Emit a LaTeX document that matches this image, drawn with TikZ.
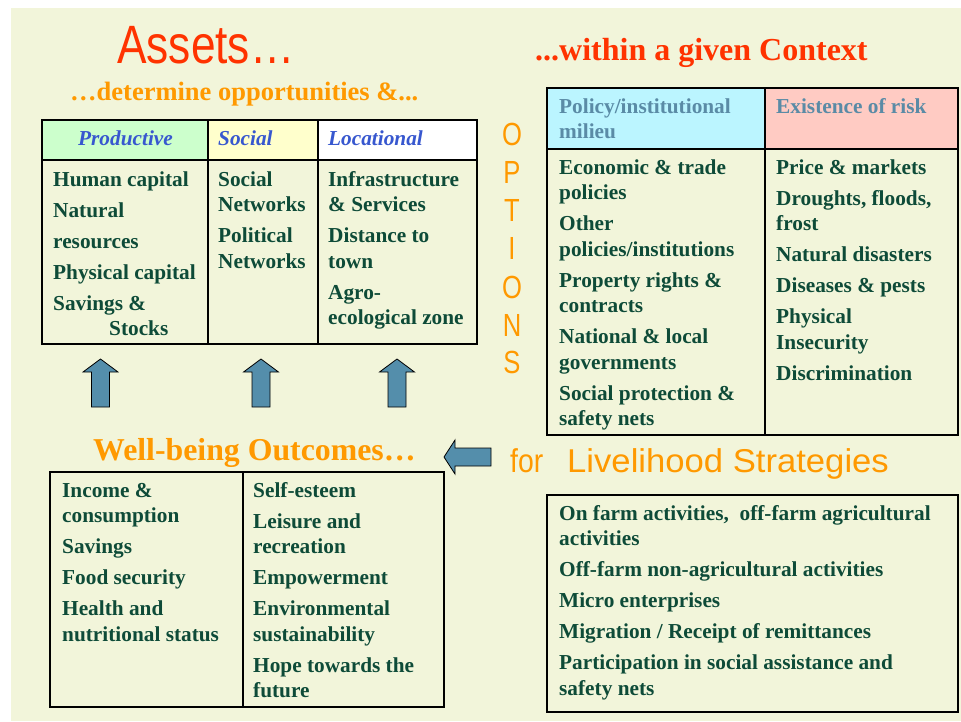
\documentclass[tikz,border=0pt]{standalone}
\usepackage{fontspec}
\usepackage{graphicx}
\setmainfont{Liberation Serif}
\newfontfamily\titlesans{Liberation Sans}

\definecolor{pagebg}{HTML}{F2F5DA}
\definecolor{bodygreen}{HTML}{0E4B38}
\definecolor{titlered}{HTML}{FF3300}
\definecolor{titleorange}{HTML}{FF9900}
\definecolor{headblue}{HTML}{3757CF}
\definecolor{ctxblue}{HTML}{5A8BA6}
\definecolor{prodfill}{HTML}{CCFFCC}
\definecolor{socfill}{HTML}{FFFFCC}
\definecolor{policyfill}{HTML}{BBF5FF}
\definecolor{riskfill}{HTML}{FFCBC3}
\definecolor{arrowblue}{HTML}{548EAB}

\newcommand\bodyfont{\fontsize{21.3}{25.5}\selectfont\bfseries}
\newcommand\itemgap{\\[5.5pt]}

\tikzset{
  cell/.style={anchor=north west, inner sep=0pt, align=left, text=bodygreen,
    font=\bodyfont, yshift=17.85pt},
  assethead/.style={anchor=base west, inner sep=0pt, text=headblue,
    font=\fontsize{21.3}{25.5}\selectfont\bfseries\itshape},
  ctxhead/.style={cell, text=ctxblue},
  outer/.style={draw=black, line width=2.6pt},
  inner/.style={draw=black, line width=1.3pt},
  blockarrow/.style={fill=arrowblue, draw=black, line width=0.8pt, line join=miter},
  optletter/.style={inner sep=0pt, text=titleorange,
    font=\titlesans\fontsize{32}{32}\selectfont},
}

% up-pointing block arrow centred on x = #1
\newcommand\uparrowat[1]{%
  \draw[blockarrow] (#1,359) -- (#1+17.5,372) -- (#1+9,372) -- (#1+9,407)
    -- (#1-9,407) -- (#1-9,372) -- (#1-17.5,372) -- cycle;}

\begin{document}
\begin{tikzpicture}[x=1pt, y=-1pt]
  \useasboundingbox (0,0) rectangle (961,721);
  \fill[white] (0,0) rectangle (961,721);
  \fill[pagebg] (11,8) rectangle (961,721);

  % ---------- titles ----------
  \node[anchor=base west, inner sep=0pt, text=titlered,
        font=\titlesans\fontsize{54}{54}\selectfont] (assets) at (117,63)
        {\scalebox{0.82}[1]{Assets…}};
  \node[anchor=base west, inner sep=0pt, text=titleorange,
        font=\fontsize{26.5}{30}\selectfont\bfseries] (determine) at (70,100)
        {…determine opportunities \&...};
  \node[anchor=base west, inner sep=0pt, text=titlered,
        font=\fontsize{32}{36}\selectfont\bfseries] (context) at (535,60)
        {...within a given Context};
  \node[anchor=base west, inner sep=0pt, text=titleorange,
        font=\fontsize{31.8}{36}\selectfont\bfseries] (wellbeing) at (93,460)
        {Well-being Outcomes…};
  \node[anchor=base west, inner sep=0pt, text=titleorange,
        font=\titlesans\fontsize{33}{36}\selectfont] (for) at (510,472)
        {\scalebox{0.86}[1]{for}};
  \node[anchor=base west, inner sep=0pt, text=titleorange,
        font=\titlesans\fontsize{33}{36}\selectfont] (livelihood) at (567,472)
        {\scalebox{1.05}[1]{Livelihood Strategies}};

  % vertical OPTIONS
  \foreach \ch/\yy [count=\i] in {O/134,P/172,T/210,I/248,O/287,N/325,S/362}
    \node[optletter] (opt\i) at (512,\yy) {\scalebox{0.8}[1]{\ch}};

  % ---------- assets table ----------
  \fill[prodfill] (42,120) rectangle (208,160);
  \fill[socfill]  (208,120) rectangle (318,160);
  \fill[white]    (318,120) rectangle (477,160);
  \draw[inner] (42,160) -- (477,160);
  \draw[inner] (208,120) -- (208,344);
  \draw[inner] (318,120) -- (318,344);
  \draw[outer] (42,120) rectangle (477,344);

  \node[assethead, anchor=base] (productive) at (125.5,145) {Productive};
  \node[assethead] (social) at (218,145) {Social};
  \node[assethead] (locational) at (328,145) {Locational};

  \node[cell] (prodlist) at (53,186)
    {\strut Human capital\itemgap Natural\itemgap resources\itemgap
     Physical capital\itemgap Savings \&\\\hspace*{56pt}Stocks};
  \node[cell] (soclist) at (218,186)
    {\strut Social\\Networks\itemgap Political\\Networks};
  \node[cell] (loclist) at (328,186)
    {\strut Infrastructure\\\& Services\itemgap Distance to\\town\itemgap
     Agro-\\ecological zone};

  % ---------- context table ----------
  \fill[policyfill] (547,88) rectangle (765,149);
  \fill[riskfill]   (765,88) rectangle (958,149);
  \draw[inner] (547,149) -- (958,149);
  \draw[inner] (765,88) -- (765,435);
  \draw[outer] (547,88) rectangle (958,435);

  \node[ctxhead] (policyhead) at (559,113) {\strut Policy/institutional\\milieu};
  \node[ctxhead] (riskhead) at (776,113) {\strut Existence of risk};

  \node[cell] (policylist) at (559,174)
    {\strut Economic \& trade\\policies\itemgap Other\\policies/institutions\itemgap
     Property rights \&\\contracts\itemgap National \& local\\governments\itemgap
     Social protection \&\\safety nets};
  \node[cell] (risklist) at (776,174)
    {\strut Price \& markets\itemgap Droughts, floods,\\frost\itemgap
     Natural disasters\itemgap Diseases \& pests\itemgap Physical\\Insecurity\itemgap
     Discrimination};

  % ---------- outcomes table ----------
  \draw[inner] (243,472) -- (243,707);
  \draw[outer] (50,472) rectangle (444,707);
  \node[cell] (outleft) at (62,497)
    {\strut Income \&\\consumption\itemgap Savings\itemgap Food security\itemgap
     Health and\\nutritional status};
  \node[cell] (outright) at (253,497)
    {\strut Self-esteem\itemgap Leisure and\\recreation\itemgap Empowerment\itemgap
     Environmental\\sustainability\itemgap Hope towards the\\future};

  % ---------- strategies box ----------
  \draw[outer] (547,495) rectangle (958,712);
  \node[cell] (strategies) at (559,520)
    {\strut On farm activities,\ \ off-farm agricultural\\activities\itemgap
     Off-farm non-agricultural activities\itemgap Micro enterprises\itemgap
     Migration / Receipt of remittances\itemgap
     Participation in social assistance and\\safety nets};

  % ---------- block arrows ----------
  \uparrowat{100.5}
  \uparrowat{261}
  \uparrowat{397}
  \draw[blockarrow] (444,457) -- (455,440) -- (455,448) -- (491,448)
    -- (491,466) -- (455,466) -- (455,474) -- cycle;
\end{tikzpicture}
\end{document}
